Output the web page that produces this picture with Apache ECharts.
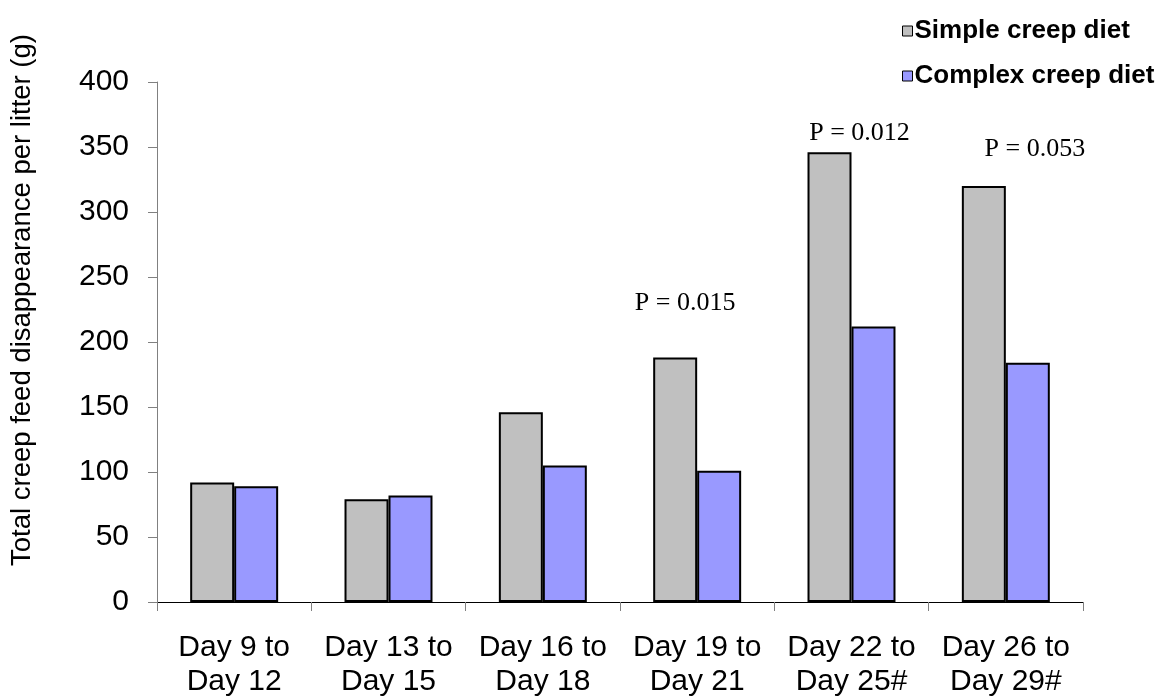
<!DOCTYPE html>
<html>
<head>
<meta charset="utf-8">
<script src="https://cdn.jsdelivr.net/npm/echarts@6/dist/echarts.min.js"></script>
<style>html,body{margin:0;padding:0;background:#fff}#c{width:1164px;height:700px}</style>
</head>
<body>
<div id="c"></div>
<script>
const categories = ['Day 9 to\nDay 12','Day 13 to\nDay 15','Day 16 to\nDay 18','Day 19 to\nDay 21','Day 22 to\nDay 25#','Day 26 to\nDay 29#'];
const simpleDiet = [92, 79, 146, 188, 346, 320];
const complexDiet = [89, 82, 105, 101, 212, 184];
const yTicks = {min: 0, max: 400, interval: 50};
const pCats = [3, 4, 5];
const pValues = [230, 361, 348];
const pTexts = ['P = 0.015', 'P = 0.012', 'P = 0.053'];
const pOffsetX = [10, 30, 51];
const yName = 'Total creep feed disappearance per litter (g)';

const chart = echarts.init(document.getElementById('c'));
chart.setOption({
  animation: false,
  backgroundColor: '#ffffff',
  grid: {left: 157, right: 81, top: 82, bottom: 98},
  legend: {
    orient: 'vertical', left: 897, top: 13, itemGap: 19,
    icon: 'rect', itemWidth: 10, itemHeight: 10,
    itemStyle: {borderColor: '#000', borderWidth: 1},
    textStyle: {fontFamily: 'Liberation Sans, Arial', fontWeight: 'bold', fontSize: 26, color: '#000', padding: [0,0,0,-3]},
    data: ['Simple creep diet', 'Complex creep diet']
  },
  xAxis: {
    type: 'category', data: categories,
    axisLine: {lineStyle: {color: '#000', width: 1}},
    axisTick: {show: true, length: 9, lineStyle: {color: '#808080'}},
    axisLabel: {fontFamily: 'Liberation Sans, Arial', fontSize: 30, color: '#000', lineHeight: 34, margin: 29, interval: 0}
  },
  yAxis: {
    type: 'value', min: yTicks.min, max: yTicks.max, interval: yTicks.interval,
    splitLine: {show: false},
    axisLine: {show: true, lineStyle: {color: '#808080'}},
    axisTick: {show: true, length: 9, lineStyle: {color: '#808080'}},
    axisLabel: {fontFamily: 'Liberation Sans, Arial', fontSize: 30, color: '#000', margin: 28}
  },
  graphic: [{
    type: 'text', x: 22, y: 300, rotation: Math.PI / 2,
    style: {text: yName, font: '27.5px "Liberation Sans", Arial', fill: '#000', textAlign: 'center', textVerticalAlign: 'middle'}
  }],
  series: [{
    name: 'Simple creep diet', type: 'bar', data: simpleDiet,
    barGap: '0%', barCategoryGap: '43%',
    itemStyle: {color: '#C0C0C0', borderColor: '#000', borderWidth: 2},
    markPoint: {
      symbol: 'rect', symbolSize: 0,
      label: {show: true, fontFamily: 'Liberation Serif, Times New Roman', fontSize: 26, color: '#000'},
      data: pCats.map((c, i) => ({coord: [c, pValues[i]], value: pTexts[i], label: {formatter: pTexts[i], offset: [pOffsetX[i], 0]}}))
    }
  }, {
    name: 'Complex creep diet', type: 'bar', data: complexDiet,
    itemStyle: {color: '#9999FF', borderColor: '#000', borderWidth: 2}
  }]
});
</script>
</body>
</html>
